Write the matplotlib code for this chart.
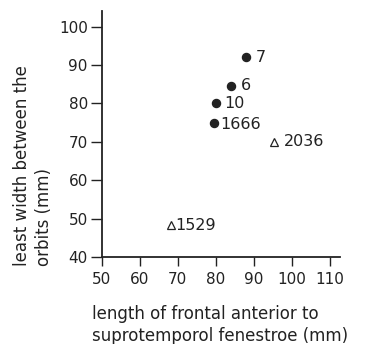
import matplotlib
matplotlib.use("Agg")
import matplotlib.pyplot as plt

# specimens: length of frontal (x) vs least width between orbits (y)
circle_ids = ['7', '6', '10', '1666']
circle_x = [88, 84, 80, 79.6]
circle_y = [92, 84.6, 80, 75]

tri_ids = ['2036', '1529']
tri_x = [95.3, 68.2]
tri_y = [70, 48.3]

xticks = [50, 60, 70, 80, 90, 100, 110]
yticks = [40, 50, 60, 70, 80, 90, 100]

plt.rcParams['font.family'] = ['DejaVu Sans']
ink = '#222222'

fig = plt.figure(figsize=(3.72, 3.44), dpi=100)
ax = fig.add_axes([0.2734, 0.253, 0.6406, 0.715])

ax.plot(circle_x, circle_y, 'o', color=ink, markersize=5.8, linestyle='none')
ax.plot(tri_x, tri_y, '^', markerfacecolor='none', markeredgecolor=ink,
        markersize=5.5, markeredgewidth=0.9, linestyle='none')

# point labels
offs = {'7': (7, 0), '6': (7, 0), '10': (6, 0), '1666': (4, -1),
        '2036': (7, 0), '1529': (3, 0)}
for name, x, y in zip(circle_ids + tri_ids, circle_x + tri_x, circle_y + tri_y):
    ax.annotate(name, (x, y), xytext=offs[name], textcoords='offset points',
                ha='left', va='center', fontsize=11.5, color=ink)

ax.set_xlim(50, 112.6)
ax.set_ylim(40, 104.1)
ax.set_xticks(xticks)
ax.set_yticks(yticks)

for s in ['top', 'right']:
    ax.spines[s].set_visible(False)
for s in ['left', 'bottom']:
    ax.spines[s].set_linewidth(1.3)
    ax.spines[s].set_color(ink)

ax.tick_params(axis='y', direction='out', length=8, width=1.0, pad=2,
               labelsize=11, colors=ink)
ax.tick_params(axis='x', direction='out', length=6.5, width=1.0, pad=4,
               labelsize=11, colors=ink)

fig.text(92 / 372, 1 - 305 / 344, 'length of frontal anterior to\nsuprotemporol fenestroe (mm)',
         ha='left', va='top', fontsize=12, linespacing=1.3, color=ink)
fig.text(13 / 372, 1 - 266 / 344, 'least width between the\norbits (mm)',
         rotation=90, ha='left', va='bottom', multialignment='left',
         fontsize=12, linespacing=1.3, color=ink)

fig.savefig('out.png', dpi=100)
